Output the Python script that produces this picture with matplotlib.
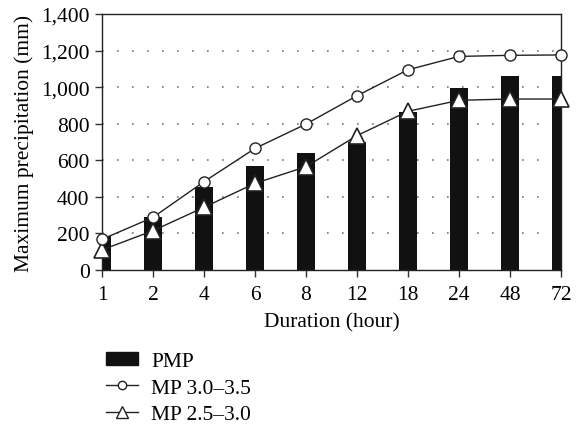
import matplotlib
matplotlib.use("Agg")
import matplotlib.pyplot as plt
from matplotlib.patches import Patch
from matplotlib.lines import Line2D
import numpy as np

durations = ["1", "2", "4", "6", "8", "12", "18", "24", "48", "72"]
pmp = [185, 288, 455, 570, 640, 702, 862, 995, 1063, 1063]
mp_30_35 = [168, 288, 483, 665, 798, 953, 1095, 1168, 1174, 1176]
mp_25_30 = [110, 215, 343, 474, 565, 735, 868, 928, 935, 935]
y_ticks = [0, 200, 400, 600, 800, 1000, 1200, 1400]

plt.rcParams["font.family"] = ["Liberation Serif", "DejaVu Serif"]
FS = 15.5

fig = plt.figure(figsize=(5.77, 4.27), dpi=100)
ax = fig.add_axes([0.1768, 0.3653, 0.7955, 0.5996])

x = np.arange(len(durations))
ax.bar(x, pmp, width=0.35, color="#111111", zorder=2, label="PMP")
ax.plot(x, mp_30_35, color="#222222", lw=1.0, marker="o", ms=8,
        mfc="white", mec="#222222", mew=1.0, zorder=4, clip_on=False,
        label="MP 3.0\u20133.5")
ax.plot(x, mp_25_30, color="#222222", lw=1.0, marker="^", ms=11,
        mfc="white", mec="#222222", mew=1.2, zorder=3, clip_on=False,
        label="MP 2.5\u20133.0")

ax.set_xlim(0, len(durations) - 1)
ax.set_ylim(0, 1400)
ax.set_xticks(x)
ax.set_xticklabels(durations)
ax.set_yticks(y_ticks)
ax.set_yticklabels([f"{v:,}" for v in y_ticks])
ax.tick_params(axis="both", labelsize=FS, direction="out", length=5,
               width=1.0, color="#333333")
ax.tick_params(axis="x", pad=6)
ax.tick_params(axis="y", pad=4)

for v in y_ticks[1:-1]:
    ax.axhline(v, color="#777777", lw=1.2, ls=(0, (1, 8)), zorder=1)

for s in ax.spines.values():
    s.set_color("#222222")
    s.set_linewidth(1.0)

ax.set_xlabel("Duration (hour)", fontsize=FS, labelpad=6)
ax.set_ylabel("Maximum precipitation (mm)", fontsize=FS, labelpad=5)

handles = [
    Patch(facecolor="#111111", edgecolor="#111111"),
    Line2D([], [], color="#222222", lw=1.0, marker="o", ms=6,
           mfc="white", mec="#222222"),
    Line2D([], [], color="#222222", lw=1.0, marker="^", ms=9,
           mfc="white", mec="#222222"),
]
labels = ["PMP", "MP 3.0\u20133.5", "MP 2.5\u20133.0"]
fig.legend(handles, labels, loc="upper left", bbox_to_anchor=(0.161, 0.203),
           frameon=False, fontsize=FS, handlelength=1.5, handleheight=0.55,
           labelspacing=0.33, handletextpad=0.6, borderpad=0.1)

fig.savefig("out.png", dpi=100)
